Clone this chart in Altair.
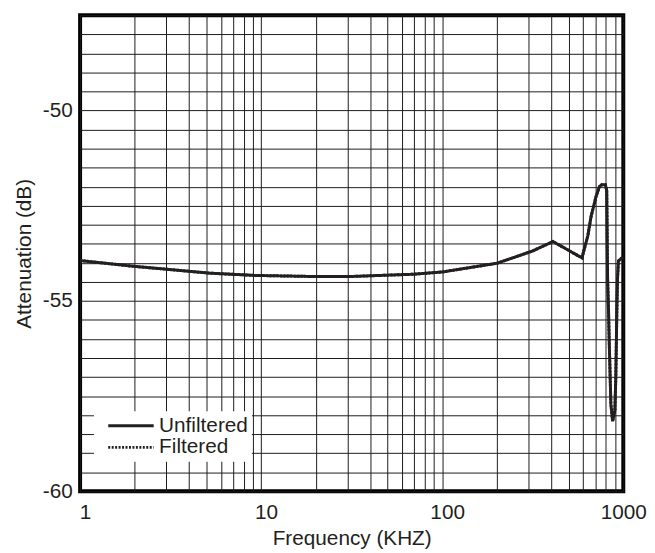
import altair as alt
import pandas as pd

# Frequency (kHz) and attenuation (dB)
freq_khz = [1.0, 1.97, 3.03, 5.17, 9.2, 20, 30.6, 68.7, 100, 201, 315, 409, 591,
            637, 664, 707, 738, 760, 796, 810, 819, 829, 837, 854, 873, 898, 909,
            921, 929, 940, 977, 995]
unfiltered_db = [-53.94, -54.09, -54.17, -54.27, -54.33, -54.36, -54.36, -54.30,
                 -54.24, -54.01, -53.69, -53.44, -53.87, -53.29, -52.78, -52.26,
                 -52.00, -51.95, -51.95, -52.10, -54.42, -55.29, -56.15, -57.71,
                 -58.16, -57.88, -57.02, -55.29, -54.42, -53.95, -53.88, -53.86]
# the filtered trace is hidden under the unfiltered one in the reference
filtered_db = list(unfiltered_db)

series_names = ["Unfiltered", "Filtered"]
x_grid = [1, 2, 3, 4, 5, 6, 7, 8, 9, 10, 20, 30, 40, 50, 60, 70, 80, 90,
          100, 200, 300, 400, 500, 600, 700, 800, 900, 1000]
x_labels = [1, 10, 100, 1000]
y_grid = [-60 + 0.5 * i for i in range(26)]

rows = []
for name, vals in [("Filtered", filtered_db), ("Unfiltered", unfiltered_db)]:
    for i, (f, v) in enumerate(zip(freq_khz, vals)):
        rows.append({"f": f, "db": v, "series": name, "order": i})
df = pd.DataFrame(rows)

FONT = "Liberation Sans"
TXT = "#231f20"
FS = 21

chart = alt.Chart(df).mark_line(color=TXT, strokeWidth=3).encode(
    x=alt.X("f:Q",
            scale=alt.Scale(type="log", domain=[1, 1000], nice=False),
            axis=alt.Axis(values=x_grid, title="Frequency (KHZ)",
                          labelExpr="indexof([1,10,100,1000], datum.value) >= 0 ? toString(datum.value) : ''",
                          labelFlush=False, labelOverlap=False, ticks=False,
                          domain=False, labelPadding=11,
                          labelOffset={"condition": {"test": "datum.value === 1000", "value": 0},
                                       "value": 5},
                          titlePadding=5)),
    y=alt.Y("db:Q",
            scale=alt.Scale(domain=[-60, -47.5], nice=False, zero=False),
            axis=alt.Axis(values=y_grid, title="Attenuation (dB)",
                          labelExpr="datum.value % 5 === 0 ? toString(datum.value) : ''",
                          labelOverlap=False, ticks=False, domain=False,
                          labelPadding=8, titlePadding=8)),
    strokeDash=alt.StrokeDash(
        "series:N",
        scale=alt.Scale(domain=series_names, range=[[1, 0], [2, 1.5]]),
        legend=alt.Legend(title=None, orient="none", legendX=14, legendY=401,
                          fillColor="white", padding=4, symbolType="M0,0H6",
                          symbolSize=235, symbolStrokeWidth=3,
                          symbolStrokeColor=TXT, labelFontSize=FS,
                          labelFont=FONT, labelColor=TXT, labelOffset=41,
                          rowPadding=0)),
    order="order:Q",
).properties(
    width=550, height=482,
    autosize=alt.AutoSizeParams(type="none"),
    padding={"left": 73, "top": 4, "right": 24, "bottom": 56},
).configure_view(
    stroke="black", strokeWidth=4
).configure_axis(
    grid=True, gridColor="#1a1a1a", gridWidth=1, gridOpacity=1,
    labelFont=FONT, labelFontSize=FS, labelColor=TXT,
    titleFont=FONT, titleFontSize=FS, titleColor=TXT, titleFontWeight="normal",
)

chart.save("out.html", embed_options={"renderer": "svg", "actions": False})
